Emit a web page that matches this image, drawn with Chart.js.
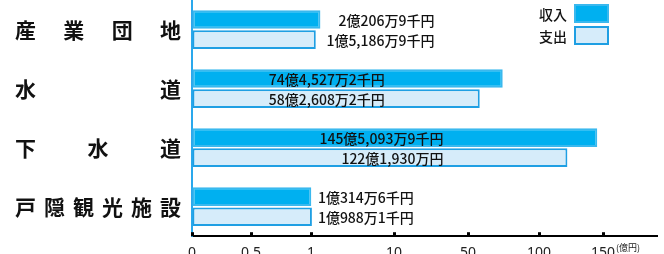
<!DOCTYPE html>
<html>
<head>
<meta charset="utf-8">
<script src="https://cdn.jsdelivr.net/npm/chart.js@4/dist/chart.umd.min.js"></script>
<style>
  html, body { margin: 0; padding: 0; overflow: hidden; background: #fff; }
</style>
</head>
<body>
<canvas id="chart" width="664" height="269"></canvas>
<script>
// values in 億円
const categories = ['産業団地', '水道', '下水道', '戸隠観光施設'];
const income = [2.02069, 74.45272, 145.50939, 1.03146];
const expense = [1.51869, 58.26082, 122.1930, 1.09881];
const incomeLabels = ['2億206万9千円', '74億4,527万2千円', '145億5,093万9千円', '1億314万6千円'];
const expenseLabels = ['1億5,186万9千円', '58億2,608万2千円', '122億1,930万円', '1億988万1千円'];
const seriesNames = ['収入', '支出'];
const tickValues = [0, 0.5, 1, 10, 50, 100, 150];
const tickLabels = ['0', '0.5', '1', '10', '50', '100', '150'];
const unitName = '(億円)';

// the axis is broken: each tick interval gets its own length
const axisStops = [0, 59, 119, 202, 276, 347, 411];
const axisEnd = 465;

function toUnit(v) {
  const n = tickValues.length;
  for (let i = 0; i < n - 1; i++) {
    if (v <= tickValues[i + 1]) {
      const f = (v - tickValues[i]) / (tickValues[i + 1] - tickValues[i]);
      return axisStops[i] + f * (axisStops[i + 1] - axisStops[i]);
    }
  }
  const slope = (axisStops[n - 1] - axisStops[n - 2]) / (tickValues[n - 1] - tickValues[n - 2]);
  return axisStops[n - 1] + (v - tickValues[n - 1]) * slope;
}

function fromUnit(u) {
  const n = tickValues.length;
  for (let i = 0; i < n - 1; i++) {
    if (u <= axisStops[i + 1]) {
      const f = (u - axisStops[i]) / (axisStops[i + 1] - axisStops[i]);
      return tickValues[i] + f * (tickValues[i + 1] - tickValues[i]);
    }
  }
  const slope = (tickValues[n - 1] - tickValues[n - 2]) / (axisStops[n - 1] - axisStops[n - 2]);
  return tickValues[n - 1] + (u - axisStops[n - 1]) * slope;
}

class BrokenScale extends Chart.LinearScale {
  buildTicks() {
    return tickValues.map(v => ({ value: v }));
  }
  getPixelForValue(value) {
    return this.getPixelForDecimal(toUnit(value) / axisEnd);
  }
  getValueForPixel(pixel) {
    return fromUnit(this.getDecimalForPixel(pixel) * axisEnd);
  }
}
BrokenScale.id = 'broken';
BrokenScale.defaults = Chart.LinearScale.defaults;
Chart.register(BrokenScale);

const incomeFill = '#00b0f0', incomeBorder = '#3ab8ee';
const expenseFill = '#d6ecfa', expenseBorder = '#1f9fe3';
const textFont = '500 14px "Noto Sans CJK JP"';

const overlay = {
  id: 'overlay',
  afterDraw(chart) {
    const ctx = chart.ctx;
    const xs = chart.scales.x, ys = chart.scales.y;
    const area = chart.chartArea;
    ctx.save();

    // category names spread across the left column
    ctx.fillStyle = '#111';
    ctx.font = 'bold 21px "Noto Sans CJK JP"';
    ctx.textBaseline = 'middle';
    ctx.textAlign = 'left';
    const colLeft = 15, colRight = 181;
    categories.forEach((name, i) => {
      const chars = [...name];
      const cy = ys.getPixelForValue(i);
      const w = ctx.measureText(chars[0]).width;
      const step = (colRight - colLeft - w) / (chars.length - 1);
      chars.forEach((ch, k) => ctx.fillText(ch, colLeft + k * step, cy));
    });

    // amount labels
    ctx.font = textFont;
    ctx.fillStyle = '#111';
    ctx.textAlign = 'right';
    const m0 = chart.getDatasetMeta(0), m1 = chart.getDatasetMeta(1);
    categories.forEach((_, i) => {
      const b0 = m0.data[i], b1 = m1.data[i];
      const len = b0.x - b0.base;
      const texts = [incomeLabels[i], expenseLabels[i]];
      let xr;
      if (len > 200) {
        xr = b0.base + len * 0.62;
      } else {
        const tw = Math.max(...texts.map(t => ctx.measureText(t).width));
        xr = Math.max(b0.x, b1.x) + 6 + tw;
      }
      ctx.fillText(texts[0], xr, b0.y + 1);
      ctx.fillText(texts[1], xr, b1.y + 1);
    });

    // legend, top right, box on the right of the text
    const boxW = 35, boxH = 19;
    const boxX = chart.width - 90;
    const fills = [incomeFill, expenseFill], borders = [incomeBorder, expenseBorder];
    seriesNames.forEach((name, k) => {
      const top = 4 + k * 22;
      ctx.fillStyle = fills[k];
      ctx.fillRect(boxX, top, boxW, boxH);
      ctx.strokeStyle = borders[k];
      ctx.lineWidth = 2;
      ctx.strokeRect(boxX + 1, top + 1, boxW - 2, boxH - 2);
      ctx.fillStyle = '#111';
      ctx.fillText(name, boxX - 7, top + boxH / 2 + 1);
    });

    // small tick marks standing on the axis line
    ctx.fillStyle = '#000';
    xs.ticks.forEach((t, i) => {
      const px = xs.getPixelForTick(i);
      ctx.fillRect(px - 1, area.bottom - 4, 3, 4);
    });

    ctx.font = '9px "Noto Sans CJK JP"';
    ctx.textAlign = 'left';
    ctx.fillStyle = '#222';
    ctx.fillText(unitName, xs.getPixelForValue(150) + 13, area.bottom + 11);

    ctx.restore();
  }
};

new Chart(document.getElementById('chart'), {
  type: 'bar',
  data: {
    labels: categories,
    datasets: [
      {
        label: seriesNames[0],
        data: income,
        backgroundColor: incomeFill,
        borderColor: incomeBorder,
        borderWidth: 2,
        borderSkipped: false
      },
      {
        label: seriesNames[1],
        data: expense,
        backgroundColor: expenseFill,
        borderColor: expenseBorder,
        borderWidth: 2,
        borderSkipped: false
      }
    ]
  },
  options: {
    indexAxis: 'y',
    responsive: false,
    animation: false,
    layout: { padding: { left: 0, right: 7, top: 0, bottom: 0 } },
    categoryPercentage: 0.68,
    barPercentage: 0.93,
    plugins: {
      legend: { display: false },
      tooltip: { enabled: false }
    },
    scales: {
      x: {
        type: 'broken',
        min: 0,
        max: 190,
        grid: { display: true, drawOnChartArea: false, drawTicks: false },
        border: { color: '#000', width: 2 },
        ticks: {
          autoSkip: false,
          maxRotation: 0,
          padding: 8,
          color: '#222',
          font: { family: '"Noto Sans", "Noto Sans CJK JP"', size: 14 },
          callback: (v, i) => tickLabels[i]
        }
      },
      y: {
        grid: { display: false },
        border: { color: '#2aa8ec', width: 2 },
        ticks: { display: false },
        afterFit(scale) { scale.width = 192; }
      }
    }
  },
  plugins: [overlay]
});
</script>
</body>
</html>
